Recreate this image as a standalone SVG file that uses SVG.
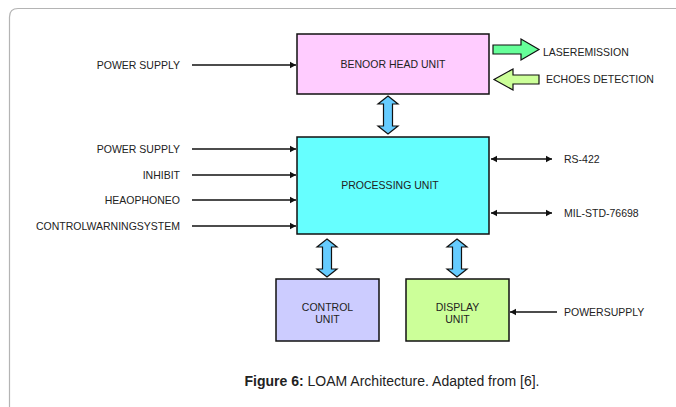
<svg xmlns="http://www.w3.org/2000/svg" width="676" height="407" viewBox="0 0 676 407">
  <style>
    .lbl { font-family: "Liberation Sans", Arial, sans-serif; font-size: 10.5px; fill: #222; }
    .box { stroke: #111; stroke-width: 1.5; }
    .wire { stroke: #111; stroke-width: 1.5; fill: none; }
    .bus { fill: #66ccff; stroke: #111; stroke-width: 1.2; stroke-linejoin: miter; }
    .block { stroke: #111; stroke-width: 1.2; }
    .cap { font-family: "Liberation Sans", Arial, sans-serif; font-size: 14px; fill: #222; }
  </style>
  <defs>
    <marker id="tip" markerWidth="8" markerHeight="8" refX="6" refY="4" orient="auto-start-reverse" markerUnits="userSpaceOnUse">
      <path d="M0,0.8 L6,4 L0,7.2 Z" fill="#111"/>
    </marker>
  </defs>

  <rect width="676" height="407" fill="#fff"/>
  <!-- page frame -->
  <path d="M9.5,407 L9.5,17 Q9.5,8.5 18,8.5 L676,8.5" fill="none" stroke="#b4b4b4" stroke-width="1.2"/>

  <!-- connectors -->
  <g id="connectors">
    <line class="wire" x1="192" y1="65" x2="296" y2="65" marker-end="url(#tip)"/>
    <line class="wire" x1="192" y1="149" x2="296" y2="149" marker-end="url(#tip)"/>
    <line class="wire" x1="192" y1="175" x2="296" y2="175" marker-end="url(#tip)"/>
    <line class="wire" x1="192" y1="200" x2="296" y2="200" marker-end="url(#tip)"/>
    <line class="wire" x1="192" y1="226" x2="296" y2="226" marker-end="url(#tip)"/>
    <line class="wire" x1="491" y1="159" x2="552" y2="159" marker-start="url(#tip)" marker-end="url(#tip)"/>
    <line class="wire" x1="491" y1="213" x2="552" y2="213" marker-start="url(#tip)" marker-end="url(#tip)"/>
    <line class="wire" x1="557" y1="312" x2="510" y2="312" marker-end="url(#tip)"/>

    <!-- bidirectional buses -->
    <path class="bus" d="M388,96 L398,104 L392.5,104 L392.5,126 L398,126 L388,134 L378,126 L383.5,126 L383.5,104 L378,104 Z"/>
    <path class="bus" d="M327,239 L337,247 L331.5,247 L331.5,269 L337,269 L327,277 L317,269 L322.5,269 L322.5,247 L317,247 Z"/>
    <path class="bus" d="M457,239 L467,247 L461.5,247 L461.5,269 L467,269 L457,277 L447,269 L452.5,269 L452.5,247 L447,247 Z"/>

    <!-- laser emission / echoes -->
    <path class="block" fill="#66ff99" d="M493,45 L521,45 L521,39 L539,49.5 L521,60 L521,54 L493,54 Z"/>
    <path class="block" fill="#ccff99" d="M539,75 L513,75 L513,69 L494,79.5 L513,90 L513,84 L539,84 Z"/>
  </g>

  <g id="head-unit">
    <rect class="box" x="297" y="34" width="192" height="60" fill="#ffccff"/>
    <text class="lbl" x="393" y="68" text-anchor="middle">BENOOR HEAD UNIT</text>
  </g>

  <g id="processing-unit">
    <rect class="box" x="297" y="137" width="192" height="97" fill="#66ffff"/>
    <text class="lbl" x="390" y="189" text-anchor="middle">PROCESSING UNIT</text>
  </g>

  <g id="control-unit">
    <rect class="box" x="276" y="279" width="103" height="62" fill="#ccccff"/>
    <text class="lbl" x="327.5" y="311" text-anchor="middle">CONTROL</text>
    <text class="lbl" x="327.5" y="323" text-anchor="middle">UNIT</text>
  </g>

  <g id="display-unit">
    <rect class="box" x="406" y="279" width="103" height="62" fill="#ccff99"/>
    <text class="lbl" x="457.5" y="311" text-anchor="middle">DISPLAY</text>
    <text class="lbl" x="457.5" y="323" text-anchor="middle">UNIT</text>
  </g>

  <!-- signal labels -->
  <g id="labels">
    <text class="lbl" x="180" y="69" text-anchor="end">POWER SUPPLY</text>
    <text class="lbl" x="180" y="153" text-anchor="end">POWER SUPPLY</text>
    <text class="lbl" x="180" y="179" text-anchor="end">INHIBIT</text>
    <text class="lbl" x="180" y="204" text-anchor="end">HEAOPHONEO</text>
    <text class="lbl" x="180" y="230" text-anchor="end">CONTROLWARNINGSYSTEM</text>
    <text class="lbl" x="543" y="56">LASEREMISSION</text>
    <text class="lbl" x="546" y="83">ECHOES DETECTION</text>
    <text class="lbl" x="564" y="163">RS-422</text>
    <text class="lbl" x="564" y="217">MIL-STD-76698</text>
    <text class="lbl" x="564" y="316">POWERSUPPLY</text>
  </g>

  <text class="cap" x="392" y="386" text-anchor="middle"><tspan font-weight="bold">Figure 6:</tspan> LOAM Architecture. Adapted from [6].</text>
</svg>
